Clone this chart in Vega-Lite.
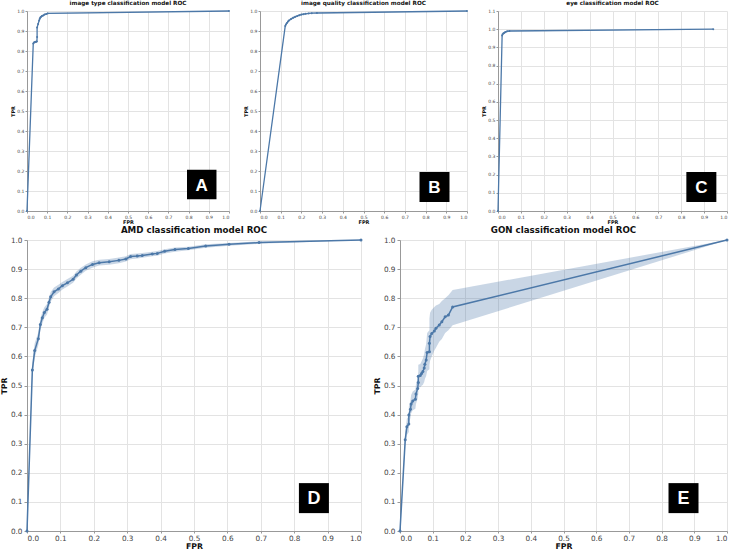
{
  "$schema": "https://vega.github.io/schema/vega-lite/v6.json",
  "padding": {"left": 0, "top": 0, "right": 2, "bottom": 0},
  "config": {
    "font": "DejaVu Sans",
    "view": {"stroke": null},
    "axis": {"gridColor": "#e3e3e3", "domainColor": "#999", "tickColor": "#999", "labelColor": "#444", "titleColor": "#111", "titleFontWeight": "bold", "minExtent": 0, "labelOverlap": false, "tickCount": 10, "format": ".1f"},
    "title": {"anchor": "middle", "fontWeight": "bold", "color": "#111"}
  },
  "datasets": {
    "A": [
      {"fpr": 0, "tpr": 0, "lo": 0, "hi": 0},
      {"fpr": 0.031, "tpr": 0.838, "lo": 0.832, "hi": 0.844},
      {"fpr": 0.035, "tpr": 0.843, "lo": 0.837, "hi": 0.849},
      {"fpr": 0.04, "tpr": 0.845, "lo": 0.839, "hi": 0.851},
      {"fpr": 0.045, "tpr": 0.846, "lo": 0.84, "hi": 0.852},
      {"fpr": 0.049, "tpr": 0.848, "lo": 0.842, "hi": 0.854},
      {"fpr": 0.05, "tpr": 0.87, "lo": 0.864, "hi": 0.876},
      {"fpr": 0.05, "tpr": 0.917, "lo": 0.911, "hi": 0.923},
      {"fpr": 0.055, "tpr": 0.935, "lo": 0.929, "hi": 0.941},
      {"fpr": 0.06, "tpr": 0.952, "lo": 0.946, "hi": 0.958},
      {"fpr": 0.063, "tpr": 0.961, "lo": 0.955, "hi": 0.967},
      {"fpr": 0.066, "tpr": 0.967, "lo": 0.961, "hi": 0.973},
      {"fpr": 0.07, "tpr": 0.971, "lo": 0.966, "hi": 0.976},
      {"fpr": 0.074, "tpr": 0.975, "lo": 0.97, "hi": 0.98},
      {"fpr": 0.08, "tpr": 0.978, "lo": 0.973, "hi": 0.983},
      {"fpr": 0.087, "tpr": 0.982, "lo": 0.977, "hi": 0.987},
      {"fpr": 0.095, "tpr": 0.985, "lo": 0.981, "hi": 0.989},
      {"fpr": 0.102, "tpr": 0.988, "lo": 0.985, "hi": 0.991},
      {"fpr": 1, "tpr": 1, "lo": 1, "hi": 1}
    ],
    "B": [
      {"fpr": 0, "tpr": 0, "lo": 0, "hi": 0},
      {"fpr": 0.122, "tpr": 0.925, "lo": 0.919, "hi": 0.931},
      {"fpr": 0.125, "tpr": 0.932, "lo": 0.926, "hi": 0.938},
      {"fpr": 0.13, "tpr": 0.94, "lo": 0.934, "hi": 0.946},
      {"fpr": 0.135, "tpr": 0.947, "lo": 0.941, "hi": 0.953},
      {"fpr": 0.14, "tpr": 0.953, "lo": 0.947, "hi": 0.959},
      {"fpr": 0.15, "tpr": 0.96, "lo": 0.954, "hi": 0.966},
      {"fpr": 0.16, "tpr": 0.966, "lo": 0.96, "hi": 0.972},
      {"fpr": 0.17, "tpr": 0.971, "lo": 0.966, "hi": 0.976},
      {"fpr": 0.18, "tpr": 0.975, "lo": 0.97, "hi": 0.98},
      {"fpr": 0.19, "tpr": 0.979, "lo": 0.974, "hi": 0.984},
      {"fpr": 0.2, "tpr": 0.982, "lo": 0.978, "hi": 0.986},
      {"fpr": 0.21, "tpr": 0.984, "lo": 0.98, "hi": 0.988},
      {"fpr": 0.22, "tpr": 0.986, "lo": 0.982, "hi": 0.99},
      {"fpr": 0.235, "tpr": 0.988, "lo": 0.985, "hi": 0.991},
      {"fpr": 0.25, "tpr": 0.989, "lo": 0.986, "hi": 0.992},
      {"fpr": 0.275, "tpr": 0.99, "lo": 0.987, "hi": 0.993},
      {"fpr": 1, "tpr": 1, "lo": 1, "hi": 1}
    ],
    "C": [
      {"fpr": 0, "tpr": 0, "lo": 0, "hi": 0},
      {"fpr": 0.018, "tpr": 0.965, "lo": 0.958, "hi": 0.972},
      {"fpr": 0.02, "tpr": 0.972, "lo": 0.965, "hi": 0.979},
      {"fpr": 0.024, "tpr": 0.977, "lo": 0.971, "hi": 0.983},
      {"fpr": 0.028, "tpr": 0.981, "lo": 0.975, "hi": 0.987},
      {"fpr": 0.033, "tpr": 0.985, "lo": 0.98, "hi": 0.99},
      {"fpr": 0.04, "tpr": 0.988, "lo": 0.984, "hi": 0.992},
      {"fpr": 0.05, "tpr": 0.99, "lo": 0.987, "hi": 0.993},
      {"fpr": 0.94, "tpr": 1, "lo": 1, "hi": 1}
    ],
    "D": [
      {"fpr": 0, "tpr": 0, "lo": 0, "hi": 0},
      {"fpr": 0.016, "tpr": 0.553, "lo": 0.528, "hi": 0.578},
      {"fpr": 0.023, "tpr": 0.62, "lo": 0.595, "hi": 0.645},
      {"fpr": 0.034, "tpr": 0.661, "lo": 0.639, "hi": 0.683},
      {"fpr": 0.04, "tpr": 0.71, "lo": 0.69, "hi": 0.73},
      {"fpr": 0.046, "tpr": 0.733, "lo": 0.713, "hi": 0.753},
      {"fpr": 0.052, "tpr": 0.751, "lo": 0.733, "hi": 0.769},
      {"fpr": 0.06, "tpr": 0.762, "lo": 0.744, "hi": 0.78},
      {"fpr": 0.066, "tpr": 0.786, "lo": 0.769, "hi": 0.803},
      {"fpr": 0.071, "tpr": 0.805, "lo": 0.789, "hi": 0.821},
      {"fpr": 0.081, "tpr": 0.822, "lo": 0.807, "hi": 0.837},
      {"fpr": 0.094, "tpr": 0.832, "lo": 0.818, "hi": 0.846},
      {"fpr": 0.106, "tpr": 0.843, "lo": 0.83, "hi": 0.856},
      {"fpr": 0.121, "tpr": 0.853, "lo": 0.84, "hi": 0.866},
      {"fpr": 0.138, "tpr": 0.865, "lo": 0.853, "hi": 0.877},
      {"fpr": 0.148, "tpr": 0.88, "lo": 0.868, "hi": 0.892},
      {"fpr": 0.161, "tpr": 0.893, "lo": 0.881, "hi": 0.905},
      {"fpr": 0.176, "tpr": 0.905, "lo": 0.894, "hi": 0.916},
      {"fpr": 0.196, "tpr": 0.916, "lo": 0.905, "hi": 0.927},
      {"fpr": 0.216, "tpr": 0.922, "lo": 0.912, "hi": 0.932},
      {"fpr": 0.246, "tpr": 0.925, "lo": 0.915, "hi": 0.935},
      {"fpr": 0.275, "tpr": 0.93, "lo": 0.92, "hi": 0.94},
      {"fpr": 0.296, "tpr": 0.935, "lo": 0.926, "hi": 0.944},
      {"fpr": 0.31, "tpr": 0.943, "lo": 0.934, "hi": 0.952},
      {"fpr": 0.33, "tpr": 0.945, "lo": 0.936, "hi": 0.954},
      {"fpr": 0.345, "tpr": 0.947, "lo": 0.939, "hi": 0.955},
      {"fpr": 0.375, "tpr": 0.952, "lo": 0.944, "hi": 0.96},
      {"fpr": 0.39, "tpr": 0.954, "lo": 0.946, "hi": 0.962},
      {"fpr": 0.412, "tpr": 0.961, "lo": 0.954, "hi": 0.968},
      {"fpr": 0.443, "tpr": 0.967, "lo": 0.96, "hi": 0.974},
      {"fpr": 0.483, "tpr": 0.971, "lo": 0.965, "hi": 0.977},
      {"fpr": 0.535, "tpr": 0.979, "lo": 0.973, "hi": 0.985},
      {"fpr": 0.605, "tpr": 0.985, "lo": 0.98, "hi": 0.99},
      {"fpr": 0.695, "tpr": 0.991, "lo": 0.987, "hi": 0.995},
      {"fpr": 1, "tpr": 1, "lo": 1, "hi": 1}
    ],
    "E": [
      {"fpr": 0, "tpr": 0, "lo": 0, "hi": 0},
      {"fpr": 0.016, "tpr": 0.314, "lo": 0.29, "hi": 0.34},
      {"fpr": 0.021, "tpr": 0.358, "lo": 0.33, "hi": 0.386},
      {"fpr": 0.027, "tpr": 0.368, "lo": 0.34, "hi": 0.396},
      {"fpr": 0.027, "tpr": 0.399, "lo": 0.37, "hi": 0.428},
      {"fpr": 0.032, "tpr": 0.418, "lo": 0.388, "hi": 0.448},
      {"fpr": 0.034, "tpr": 0.436, "lo": 0.405, "hi": 0.467},
      {"fpr": 0.039, "tpr": 0.447, "lo": 0.415, "hi": 0.479},
      {"fpr": 0.047, "tpr": 0.453, "lo": 0.42, "hi": 0.486},
      {"fpr": 0.049, "tpr": 0.471, "lo": 0.437, "hi": 0.505},
      {"fpr": 0.054, "tpr": 0.49, "lo": 0.455, "hi": 0.525},
      {"fpr": 0.056, "tpr": 0.51, "lo": 0.473, "hi": 0.547},
      {"fpr": 0.056, "tpr": 0.532, "lo": 0.493, "hi": 0.571},
      {"fpr": 0.062, "tpr": 0.534, "lo": 0.494, "hi": 0.574},
      {"fpr": 0.066, "tpr": 0.541, "lo": 0.499, "hi": 0.583},
      {"fpr": 0.07, "tpr": 0.548, "lo": 0.503, "hi": 0.593},
      {"fpr": 0.074, "tpr": 0.56, "lo": 0.512, "hi": 0.608},
      {"fpr": 0.076, "tpr": 0.573, "lo": 0.522, "hi": 0.624},
      {"fpr": 0.08, "tpr": 0.588, "lo": 0.533, "hi": 0.643},
      {"fpr": 0.083, "tpr": 0.613, "lo": 0.55, "hi": 0.68},
      {"fpr": 0.09, "tpr": 0.616, "lo": 0.556, "hi": 0.69},
      {"fpr": 0.09, "tpr": 0.645, "lo": 0.57, "hi": 0.73},
      {"fpr": 0.092, "tpr": 0.668, "lo": 0.585, "hi": 0.75},
      {"fpr": 0.097, "tpr": 0.679, "lo": 0.6, "hi": 0.76},
      {"fpr": 0.105, "tpr": 0.687, "lo": 0.62, "hi": 0.77},
      {"fpr": 0.11, "tpr": 0.697, "lo": 0.63, "hi": 0.775},
      {"fpr": 0.12, "tpr": 0.708, "lo": 0.65, "hi": 0.78},
      {"fpr": 0.128, "tpr": 0.719, "lo": 0.66, "hi": 0.79},
      {"fpr": 0.138, "tpr": 0.736, "lo": 0.68, "hi": 0.8},
      {"fpr": 0.148, "tpr": 0.742, "lo": 0.69, "hi": 0.81},
      {"fpr": 0.161, "tpr": 0.77, "lo": 0.707, "hi": 0.828},
      {"fpr": 1, "tpr": 1, "lo": 1, "hi": 1}
    ],
    "labels": [
      {"panel": "A", "label": "A", "x": 0.865, "y": 0.1325},
      {"panel": "B", "label": "B", "x": 0.843, "y": 0.12},
      {"panel": "C", "label": "C", "x": 0.888, "y": 0.132},
      {"panel": "D", "label": "D", "x": 0.859, "y": 0.113},
      {"panel": "E", "label": "E", "x": 0.867, "y": 0.113}
    ]
  },
  "spacing": 1,
  "vconcat": [
    {
      "spacing": 11,
      "hconcat": [
        {
          "width": 202, "height": 200,
          "title": {"text": "image type classification model ROC", "fontSize": 5.7, "offset": 2},
          "layer": [
            {"data": {"name": "A"}, "mark": {"type": "area", "color": "#4c78a8", "opacity": 0.3},
             "encoding": {
               "x": {"field": "fpr", "type": "quantitative", "scale": {"domain": [0, 1]}, "axis": {"title": "FPR", "labelFontSize": 4.5, "titleFontSize": 5, "tickSize": 2, "labelPadding": 1, "titlePadding": 1}},
               "y": {"field": "lo", "type": "quantitative", "scale": {"domain": [0, 1]}, "axis": {"title": "TPR", "labelFontSize": 4.5, "titleFontSize": 5, "tickSize": 2, "labelPadding": 1, "titlePadding": 1}},
               "y2": {"field": "hi"}}},
            {"data": {"name": "A"}, "mark": {"type": "line", "color": "#4c78a8", "strokeWidth": 1.3, "point": {"filled": true, "size": 4, "color": "#4c78a8"}},
             "encoding": {
               "x": {"field": "fpr", "type": "quantitative", "axis": {"title": "FPR", "labelFontSize": 4.5, "titleFontSize": 5, "tickSize": 2, "labelPadding": 1, "titlePadding": 1}},
               "y": {"field": "tpr", "type": "quantitative", "axis": {"title": "TPR", "labelFontSize": 4.5, "titleFontSize": 5, "tickSize": 2, "labelPadding": 1, "titlePadding": 1}},
               "order": {"field": "tpr"}}},
            {"data": {"name": "labels"}, "transform": [{"filter": "datum.panel == 'A'"}], "mark": {"type": "square", "size": 870, "color": "black", "opacity": 1},
             "encoding": {
               "x": {"field": "x", "type": "quantitative", "axis": {"title": "FPR", "labelFontSize": 4.5, "titleFontSize": 5, "tickSize": 2, "labelPadding": 1, "titlePadding": 1}},
               "y": {"field": "y", "type": "quantitative", "axis": {"title": "TPR", "labelFontSize": 4.5, "titleFontSize": 5, "tickSize": 2, "labelPadding": 1, "titlePadding": 1}}}},
            {"data": {"name": "labels"}, "transform": [{"filter": "datum.panel == 'A'"}], "mark": {"type": "text", "color": "white", "font": "Liberation Sans", "fontWeight": "bold", "fontSize": 17, "baseline": "middle", "dy": 1},
             "encoding": {
               "x": {"field": "x", "type": "quantitative", "axis": {"title": "FPR", "labelFontSize": 4.5, "titleFontSize": 5, "tickSize": 2, "labelPadding": 1, "titlePadding": 1}},
               "y": {"field": "y", "type": "quantitative", "axis": {"title": "TPR", "labelFontSize": 4.5, "titleFontSize": 5, "tickSize": 2, "labelPadding": 1, "titlePadding": 1}},
               "text": {"field": "label"}}}
          ]
        },
        {
          "width": 207, "height": 200,
          "title": {"text": "image quality classification model ROC", "fontSize": 5.7, "offset": 2},
          "layer": [
            {"data": {"name": "B"}, "mark": {"type": "area", "color": "#4c78a8", "opacity": 0.3},
             "encoding": {
               "x": {"field": "fpr", "type": "quantitative", "scale": {"domain": [0, 1]}, "axis": {"title": "FPR", "labelFontSize": 4.5, "titleFontSize": 5, "tickSize": 2, "labelPadding": 1, "titlePadding": 1}},
               "y": {"field": "lo", "type": "quantitative", "scale": {"domain": [0, 1]}, "axis": {"title": "TPR", "labelFontSize": 4.5, "titleFontSize": 5, "tickSize": 2, "labelPadding": 1, "titlePadding": 1}},
               "y2": {"field": "hi"}}},
            {"data": {"name": "B"}, "mark": {"type": "line", "color": "#4c78a8", "strokeWidth": 1.3, "point": {"filled": true, "size": 4, "color": "#4c78a8"}},
             "encoding": {
               "x": {"field": "fpr", "type": "quantitative", "axis": {"title": "FPR", "labelFontSize": 4.5, "titleFontSize": 5, "tickSize": 2, "labelPadding": 1, "titlePadding": 1}},
               "y": {"field": "tpr", "type": "quantitative", "axis": {"title": "TPR", "labelFontSize": 4.5, "titleFontSize": 5, "tickSize": 2, "labelPadding": 1, "titlePadding": 1}},
               "order": {"field": "tpr"}}},
            {"data": {"name": "labels"}, "transform": [{"filter": "datum.panel == 'B'"}], "mark": {"type": "square", "size": 900, "color": "black", "opacity": 1},
             "encoding": {
               "x": {"field": "x", "type": "quantitative", "axis": {"title": "FPR", "labelFontSize": 4.5, "titleFontSize": 5, "tickSize": 2, "labelPadding": 1, "titlePadding": 1}},
               "y": {"field": "y", "type": "quantitative", "axis": {"title": "TPR", "labelFontSize": 4.5, "titleFontSize": 5, "tickSize": 2, "labelPadding": 1, "titlePadding": 1}}}},
            {"data": {"name": "labels"}, "transform": [{"filter": "datum.panel == 'B'"}], "mark": {"type": "text", "color": "white", "font": "Liberation Sans", "fontWeight": "bold", "fontSize": 17, "baseline": "middle", "dy": 1},
             "encoding": {
               "x": {"field": "x", "type": "quantitative", "axis": {"title": "FPR", "labelFontSize": 4.5, "titleFontSize": 5, "tickSize": 2, "labelPadding": 1, "titlePadding": 1}},
               "y": {"field": "y", "type": "quantitative", "axis": {"title": "TPR", "labelFontSize": 4.5, "titleFontSize": 5, "tickSize": 2, "labelPadding": 1, "titlePadding": 1}},
               "text": {"field": "label"}}}
          ]
        },
        {
          "width": 229, "height": 200,
          "title": {"text": "eye classification model ROC", "fontSize": 5.7, "offset": 2},
          "layer": [
            {"data": {"name": "C"}, "mark": {"type": "area", "color": "#4c78a8", "opacity": 0.3},
             "encoding": {
               "x": {"field": "fpr", "type": "quantitative", "scale": {"domain": [0, 1]}, "axis": {"title": "FPR", "labelFontSize": 4.5, "titleFontSize": 5, "tickSize": 2, "labelPadding": 1, "titlePadding": 1}},
               "y": {"field": "lo", "type": "quantitative", "scale": {"domain": [0, 1.1]}, "axis": {"title": "TPR", "labelFontSize": 4.5, "titleFontSize": 5, "tickSize": 2, "labelPadding": 1, "titlePadding": 1}},
               "y2": {"field": "hi"}}},
            {"data": {"name": "C"}, "mark": {"type": "line", "color": "#4c78a8", "strokeWidth": 1.3, "point": {"filled": true, "size": 4, "color": "#4c78a8"}},
             "encoding": {
               "x": {"field": "fpr", "type": "quantitative", "axis": {"title": "FPR", "labelFontSize": 4.5, "titleFontSize": 5, "tickSize": 2, "labelPadding": 1, "titlePadding": 1}},
               "y": {"field": "tpr", "type": "quantitative", "axis": {"title": "TPR", "labelFontSize": 4.5, "titleFontSize": 5, "tickSize": 2, "labelPadding": 1, "titlePadding": 1}},
               "order": {"field": "tpr"}}},
            {"data": {"name": "labels"}, "transform": [{"filter": "datum.panel == 'C'"}], "mark": {"type": "square", "size": 900, "color": "black", "opacity": 1},
             "encoding": {
               "x": {"field": "x", "type": "quantitative", "axis": {"title": "FPR", "labelFontSize": 4.5, "titleFontSize": 5, "tickSize": 2, "labelPadding": 1, "titlePadding": 1}},
               "y": {"field": "y", "type": "quantitative", "axis": {"title": "TPR", "labelFontSize": 4.5, "titleFontSize": 5, "tickSize": 2, "labelPadding": 1, "titlePadding": 1}}}},
            {"data": {"name": "labels"}, "transform": [{"filter": "datum.panel == 'C'"}], "mark": {"type": "text", "color": "white", "font": "Liberation Sans", "fontWeight": "bold", "fontSize": 17, "baseline": "middle", "dy": 1},
             "encoding": {
               "x": {"field": "x", "type": "quantitative", "axis": {"title": "FPR", "labelFontSize": 4.5, "titleFontSize": 5, "tickSize": 2, "labelPadding": 1, "titlePadding": 1}},
               "y": {"field": "y", "type": "quantitative", "axis": {"title": "TPR", "labelFontSize": 4.5, "titleFontSize": 5, "tickSize": 2, "labelPadding": 1, "titlePadding": 1}},
               "text": {"field": "label"}}}
          ]
        }
      ]
    },
    {
      "spacing": 9,
      "hconcat": [
        {
          "width": 334, "height": 291,
          "title": {"text": "AMD classification model ROC", "fontSize": 8.7, "offset": 1},
          "layer": [
            {"data": {"name": "D"}, "mark": {"type": "area", "color": "#4c78a8", "opacity": 0.3},
             "encoding": {
               "x": {"field": "fpr", "type": "quantitative", "scale": {"domain": [0, 1]}, "axis": {"title": "FPR", "labelFontSize": 7.3, "titleFontSize": 7.8, "tickSize": 2, "labelPadding": 1, "titlePadding": 1}},
               "y": {"field": "lo", "type": "quantitative", "scale": {"domain": [0, 1]}, "axis": {"title": "TPR", "labelFontSize": 7.3, "titleFontSize": 7.8, "tickSize": 3, "labelPadding": 2, "titlePadding": 2}},
               "y2": {"field": "hi"}}},
            {"data": {"name": "D"}, "mark": {"type": "line", "color": "#4c78a8", "strokeWidth": 1.5, "point": {"filled": true, "size": 9, "color": "#4c78a8"}},
             "encoding": {
               "x": {"field": "fpr", "type": "quantitative", "axis": {"title": "FPR", "labelFontSize": 7.3, "titleFontSize": 7.8, "tickSize": 2, "labelPadding": 1, "titlePadding": 1}},
               "y": {"field": "tpr", "type": "quantitative", "axis": {"title": "TPR", "labelFontSize": 7.3, "titleFontSize": 7.8, "tickSize": 3, "labelPadding": 2, "titlePadding": 2}},
               "order": {"field": "tpr"}}},
            {"data": {"name": "labels"}, "transform": [{"filter": "datum.panel == 'D'"}], "mark": {"type": "square", "size": 900, "color": "black", "opacity": 1},
             "encoding": {
               "x": {"field": "x", "type": "quantitative", "axis": {"title": "FPR", "labelFontSize": 7.3, "titleFontSize": 7.8, "tickSize": 2, "labelPadding": 1, "titlePadding": 1}},
               "y": {"field": "y", "type": "quantitative", "axis": {"title": "TPR", "labelFontSize": 7.3, "titleFontSize": 7.8, "tickSize": 3, "labelPadding": 2, "titlePadding": 2}}}},
            {"data": {"name": "labels"}, "transform": [{"filter": "datum.panel == 'D'"}], "mark": {"type": "text", "color": "white", "font": "Liberation Sans", "fontWeight": "bold", "fontSize": 18, "baseline": "middle", "dy": 1},
             "encoding": {
               "x": {"field": "x", "type": "quantitative", "axis": {"title": "FPR", "labelFontSize": 7.3, "titleFontSize": 7.8, "tickSize": 2, "labelPadding": 1, "titlePadding": 1}},
               "y": {"field": "y", "type": "quantitative", "axis": {"title": "TPR", "labelFontSize": 7.3, "titleFontSize": 7.8, "tickSize": 3, "labelPadding": 2, "titlePadding": 2}},
               "text": {"field": "label"}}}
          ]
        },
        {
          "width": 327, "height": 291,
          "title": {"text": "GON classification model ROC", "fontSize": 8.7, "offset": 1},
          "layer": [
            {"data": {"name": "E"}, "mark": {"type": "area", "color": "#4c78a8", "opacity": 0.3},
             "encoding": {
               "x": {"field": "fpr", "type": "quantitative", "scale": {"domain": [0, 1]}, "axis": {"title": "FPR", "labelFontSize": 7.3, "titleFontSize": 7.8, "tickSize": 2, "labelPadding": 1, "titlePadding": 1}},
               "y": {"field": "lo", "type": "quantitative", "scale": {"domain": [0, 1]}, "axis": {"title": "TPR", "labelFontSize": 7.3, "titleFontSize": 7.8, "tickSize": 3, "labelPadding": 2, "titlePadding": 2}},
               "y2": {"field": "hi"}}},
            {"data": {"name": "E"}, "mark": {"type": "line", "color": "#4c78a8", "strokeWidth": 1.5, "point": {"filled": true, "size": 9, "color": "#4c78a8"}},
             "encoding": {
               "x": {"field": "fpr", "type": "quantitative", "axis": {"title": "FPR", "labelFontSize": 7.3, "titleFontSize": 7.8, "tickSize": 2, "labelPadding": 1, "titlePadding": 1}},
               "y": {"field": "tpr", "type": "quantitative", "axis": {"title": "TPR", "labelFontSize": 7.3, "titleFontSize": 7.8, "tickSize": 3, "labelPadding": 2, "titlePadding": 2}},
               "order": {"field": "tpr"}}},
            {"data": {"name": "labels"}, "transform": [{"filter": "datum.panel == 'E'"}], "mark": {"type": "square", "size": 900, "color": "black", "opacity": 1},
             "encoding": {
               "x": {"field": "x", "type": "quantitative", "axis": {"title": "FPR", "labelFontSize": 7.3, "titleFontSize": 7.8, "tickSize": 2, "labelPadding": 1, "titlePadding": 1}},
               "y": {"field": "y", "type": "quantitative", "axis": {"title": "TPR", "labelFontSize": 7.3, "titleFontSize": 7.8, "tickSize": 3, "labelPadding": 2, "titlePadding": 2}}}},
            {"data": {"name": "labels"}, "transform": [{"filter": "datum.panel == 'E'"}], "mark": {"type": "text", "color": "white", "font": "Liberation Sans", "fontWeight": "bold", "fontSize": 18, "baseline": "middle", "dy": 1},
             "encoding": {
               "x": {"field": "x", "type": "quantitative", "axis": {"title": "FPR", "labelFontSize": 7.3, "titleFontSize": 7.8, "tickSize": 2, "labelPadding": 1, "titlePadding": 1}},
               "y": {"field": "y", "type": "quantitative", "axis": {"title": "TPR", "labelFontSize": 7.3, "titleFontSize": 7.8, "tickSize": 3, "labelPadding": 2, "titlePadding": 2}},
               "text": {"field": "label"}}}
          ]
        }
      ]
    }
  ]
}
